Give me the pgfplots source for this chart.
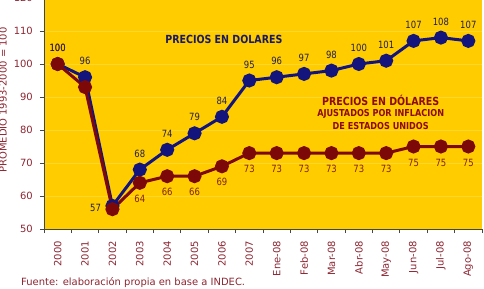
\documentclass[border=0pt]{standalone}
\usepackage{pgfplots}
\pgfplotsset{compat=1.18}
\usepackage{fontspec}
\setmainfont{DejaVu Sans}
\newfontfamily\narrowfont[FakeStretch=0.85]{DejaVu Sans}

\definecolor{gold}{RGB}{255,204,0}
\definecolor{gridyel}{RGB}{255,214,45}
\definecolor{navyline}{RGB}{20,20,125}
\definecolor{maroonline}{RGB}{125,8,8}
\definecolor{ticktxt}{RGB}{140,38,50}
\definecolor{bluelab}{RGB}{35,30,70}
\definecolor{redlab}{RGB}{125,35,10}
\definecolor{axisgray}{RGB}{70,70,70}
\definecolor{navytxt}{RGB}{25,25,95}
\definecolor{redtxt}{RGB}{140,10,10}

\begin{document}
\begin{tikzpicture}
\begin{axis}[
  at={(0,0)}, anchor=south west,
  scale only axis, width=438bp, height=231bp,
  xmin=-0.5, xmax=15.5, ymin=50, ymax=120,
  axis x line*=bottom, axis y line*=left,
  axis line style={draw=axisgray, line width=0.9pt},
  axis background/.style={fill=gold},
  ymajorgrids, grid style={draw=gridyel, line width=0.6pt},
  tick align=outside,
  major tick length=4bp, minor tick length=4bp,
  tick style={draw=axisgray, line width=0.8pt},
  ytick={50,60,...,120},
  xtick={0,...,15},
  xticklabels={2000,2001,2002,2003,2004,2005,2006,2007,Ene-08,Feb-08,Mar-08,Abr-08,May-08,Jun-08,Jul-08,Ago-08},
  major x tick style={draw=none},
  minor xtick={-0.5,0.5,...,15.5},
  x tick label style={rotate=90, anchor=east, font=\fontsize{10}{12}\selectfont, text=ticktxt, inner sep=0pt},
  xticklabel shift=8bp,
  y tick label style={font=\fontsize{10}{12}\selectfont, text=ticktxt, inner sep=0pt},
  yticklabel shift=7bp,
  /pgf/number format/assume math mode=true,
  clip=false,
  nodes near coords={\pgfplotspointmeta},
  point meta=explicit symbolic,
]
% US dollar prices
\addplot[navyline, line width=3bp, mark=*, mark size=5.5bp,
  mark options={fill=navyline, draw=navyline},
  every node near coord/.style={anchor=center, yshift=16bp, text=bluelab,
    font=\narrowfont\fontsize{10}{12}\selectfont}]
  coordinates {
  (0,100) [100] (1,96) [96] (2,57) [] (3,68) [68] (4,74) [74] (5,79) [79]
  (6,84) [84] (7,95) [95] (8,96) [96] (9,97) [97] (10,98) [98] (11,100) [100]
  (12,101) [101] (13,107) [107] (14,108) [108] (15,107) [107]
  };
% US dollar prices adjusted for US inflation
\addplot[maroonline, line width=3bp, mark=*, mark size=5.5bp,
  mark options={fill=maroonline, draw=maroonline},
  every node near coord/.style={anchor=center, yshift=-16bp, text=redlab,
    font=\narrowfont\fontsize{10}{12}\selectfont}]
  coordinates {
  (0,100) [] (1,93) [] (2,56) [] (3,64) [64] (4,66) [66] (5,66) [66]
  (6,69) [69] (7,73) [73] (8,73) [73] (9,73) [73] (10,73) [73] (11,73) [73]
  (12,73) [73] (13,75) [75] (14,75) [75] (15,75) [75]
  };
\node[anchor=east, text=bluelab, font=\narrowfont\fontsize{10}{12}\selectfont]
  at (axis cs:2,57) [xshift=-8bp, yshift=-2bp] {57};
\node[anchor=center, text=redlab, font=\narrowfont\fontsize{10}{12}\selectfont]
  at (axis cs:0,100) [yshift=16bp] {100};
% series captions
\node[text=navytxt, font=\narrowfont\bfseries\fontsize{11.2}{13}\selectfont]
  at (axis cs:6.07,107.3) {PRECIOS EN DOLARES};
\node[text=redtxt, font=\narrowfont\bfseries\fontsize{11.2}{13}\selectfont]
  at (axis cs:11.8,89.1) {PRECIOS EN DÓLARES};
\node[text=redtxt, font=\narrowfont\bfseries\fontsize{9.6}{11}\selectfont]
  at (axis cs:11.8,84.85) {AJUSTADOS POR INFLACION};
\node[text=redtxt, font=\narrowfont\bfseries\fontsize{9.6}{11}\selectfont]
  at (axis cs:11.8,81.2) {DE ESTADOS UNIDOS};
\end{axis}
\node[rotate=90, text=ticktxt, font=\fontsize{10}{12}\selectfont]
  at (-41bp,129bp) {PROMEDIO 1993-2000 = 100};
\node[anchor=base west, text=ticktxt, font=\fontsize{10}{12}\selectfont, inner sep=0pt]
  at (-23bp,-56.5bp) {Fuente: elaboración propia en base a INDEC.};
\pgfresetboundingbox
\path[use as bounding box] (-44bp,-60bp) rectangle (440bp,229bp);
\end{tikzpicture}
\end{document}
